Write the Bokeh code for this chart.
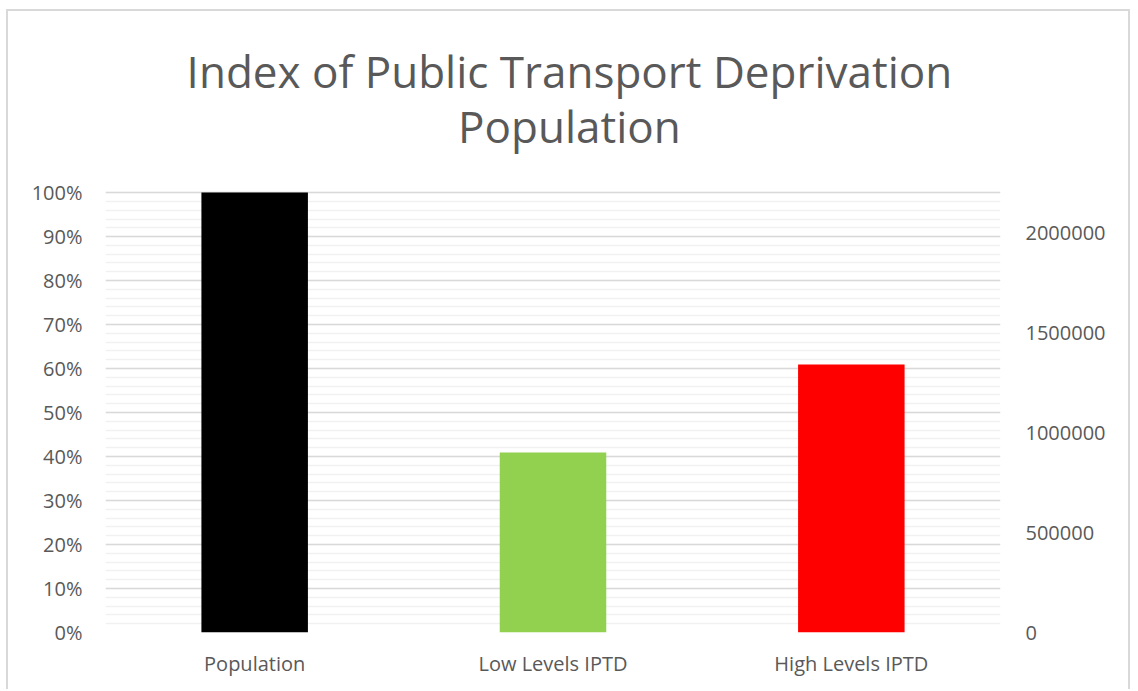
from bokeh.plotting import figure
from bokeh.models import (Range1d, LinearAxis, SingleIntervalTicker, FixedTicker,
                          NumeralTickFormatter, Label, ColumnDataSource, FactorRange)
from bokeh.embed import file_html
from bokeh.resources import INLINE

# ---- data ----
categories = ["Population", "Low Levels IPTD", "High Levels IPTD"]
shares = [1.00, 0.409, 0.609]
bar_colors = ["#000000", "#92D050", "#FF0000"]
left_ticks = [0.0, 0.1, 0.2, 0.3, 0.4, 0.5, 0.6, 0.7, 0.8, 0.9, 1.0]
right_ticks = [0, 500000, 1000000, 1500000, 2000000]
right_max = 2200000
title_lines = ["Index of Public Transport Deprivation", "Population"]

FONT = "Open Sans"
TXT = "#595959"
Y_TOP = 1.389  # frame extends above 100% to host the title

src = ColumnDataSource(dict(cat=categories, v=shares, c=bar_colors))

p = figure(x_range=FactorRange(*categories), y_range=Range1d(0, Y_TOP),
           width=1124, height=680, output_backend="svg", toolbar_location=None,
           min_border_left=97, min_border_right=132, min_border_top=10,
           min_border_bottom=59)
p.styles = {"border-left": "2px solid #d9d9d9", "border-top": "2px solid #d9d9d9",
            "border-right": "2px solid #d9d9d9", "margin-left": "6px", "margin-top": "9px"}
p.outline_line_color = None
p.background_fill_color = "white"
p.border_fill_color = "white"

p.vbar(x="cat", top="v", width=0.357, color="c", source=src, line_color=None)

# left axis
ya = p.yaxis[0]
ya.ticker = SingleIntervalTicker(interval=0.1, num_minor_ticks=5)
ya.bounds = (0, 1)
ya.formatter = NumeralTickFormatter(format="0%")
ya.axis_line_color = None
ya.major_tick_line_color = None
ya.minor_tick_line_color = None
ya.major_tick_out = 0
ya.major_tick_in = 0
ya.minor_tick_out = 0
ya.major_label_standoff = 23
ya.major_label_text_font = FONT
ya.major_label_text_font_size = "20px"
ya.major_label_text_color = TXT

p.ygrid.bounds = (0, 1)
p.ygrid.grid_line_color = "#d9d9d9"
p.ygrid.grid_line_width = 1.3
p.ygrid.minor_grid_line_color = "#f1f1f1"
p.ygrid.minor_grid_line_width = 1.3
p.xgrid.grid_line_color = None

# right axis
p.extra_y_ranges = {"pop": Range1d(0, right_max * Y_TOP)}
ra = LinearAxis(y_range_name="pop", ticker=FixedTicker(ticks=right_ticks),
                formatter=NumeralTickFormatter(format="0"))
ra.bounds = (0, right_max)
ra.axis_line_color = None
ra.major_tick_line_color = None
ra.minor_tick_line_color = None
ra.major_tick_out = 0
ra.major_tick_in = 0
ra.minor_tick_out = 0
ra.major_label_standoff = 25
ra.major_label_text_font = FONT
ra.major_label_text_font_size = "20px"
ra.major_label_text_color = TXT
p.add_layout(ra, "right")

# x axis
xa = p.xaxis[0]
xa.axis_line_color = None
xa.major_tick_line_color = None
xa.major_tick_out = 0
xa.major_tick_in = 0
xa.major_label_standoff = 17
xa.major_label_text_font = FONT
xa.major_label_text_font_size = "20px"
xa.major_label_text_color = TXT

# title (two lines)
for txt, yy in zip(title_lines, [1.277, 1.152]):
    p.add_layout(Label(x=1.555, y=yy, text=txt, text_align="center",
                       text_baseline="alphabetic", text_font=FONT,
                       text_font_size="44px", text_color=TXT))

open("out.html", "w").write(file_html(p, INLINE))
